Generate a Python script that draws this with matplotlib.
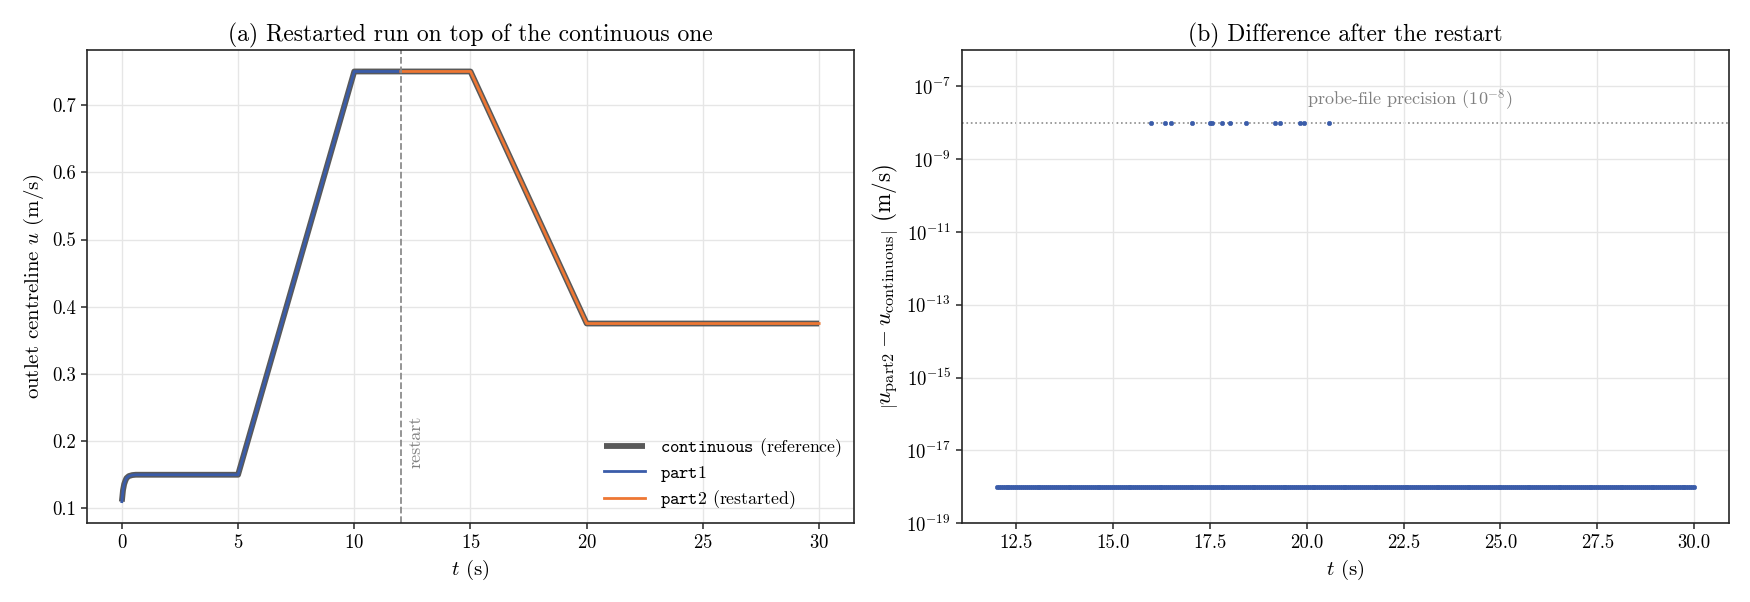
import numpy as np
import matplotlib
matplotlib.use("Agg")
import matplotlib.pyplot as plt
from matplotlib import ticker

# dane z sondy na wylocie
tContinuous = [0.0, 0.05, 0.1, 0.15, 0.2, 0.3, 0.45, 0.6, 5.0, 10.0, 15.0, 20.0, 30.0]
uContinuous = [0.11, 0.127, 0.136, 0.141, 0.145, 0.148, 0.1495, 0.15, 0.15, 0.75, 0.75, 0.375, 0.375]

tPart1 = [0.0, 0.05, 0.1, 0.15, 0.2, 0.3, 0.45, 0.6, 5.0, 10.0, 12.0]
uPart1 = [0.11, 0.127, 0.136, 0.141, 0.145, 0.148, 0.1495, 0.15, 0.15, 0.75, 0.75]

tPart2 = [12.0, 15.0, 20.0, 30.0]
uPart2 = [0.75, 0.75, 0.375, 0.375]

tRestart = 12.0

# roznica part2 - continuous: zero wszedzie poza kilkoma chwilami (precyzja pliku)
tSpikes = [15.99, 16.35, 16.50, 17.04, 17.49, 17.56, 17.80, 18.01, 18.44,
           19.19, 19.32, 19.82, 19.94, 20.57]
spikeValue = 1e-8
probeStep = 0.05
floorValue = 1e-18
probePrecision = 1e-8

BLUE = '#3a5ca9'
ORANGE = '#ee7733'
GREY = '#595959'

plt.rcParams['font.family'] = 'serif'
plt.rcParams['font.serif'] = ['cmr10']
plt.rcParams['mathtext.fontset'] = 'cm'
plt.rcParams['axes.formatter.use_mathtext'] = True
plt.rcParams['axes.unicode_minus'] = False

TICK = 13.5
LABEL = 15
TITLE = 17
NOTE = 13


def ustawOsie(ax):
    ax.grid(True, color='#e6e6e6', linewidth=1.0)
    ax.set_axisbelow(True)
    for s in ax.spines.values():
        s.set_color('#262626')
        s.set_linewidth(1.2)
    ax.tick_params(labelsize=TICK, length=4.5, width=1.1, color='#262626')


fig = plt.figure(figsize=(17.5, 6.02), dpi=100)
ax1 = fig.add_axes([0.0497, 0.131, 0.4383, 0.786])
ax2 = fig.add_axes([0.5497, 0.131, 0.4383, 0.786])

# (a) przebieg
ax1.plot(tContinuous, uContinuous, color=GREY, linewidth=4.2, solid_capstyle='butt',
         label=r'$\mathtt{continuous}$ (reference)')
ax1.plot(tPart1, uPart1, color=BLUE, linewidth=2.0, label=r'$\mathtt{part1}$')
ax1.plot(tPart2, uPart2, color=ORANGE, linewidth=2.0, label=r'$\mathtt{part2}$ (restarted)')
ax1.axvline(tRestart, color='#8c8c8c', linestyle='--', linewidth=1.3)
ax1.text(tRestart + 0.3, 0.16, 'restart', rotation=90, color='#808080', fontsize=NOTE,
         ha='left', va='bottom')
ax1.set_title('(a) Restarted run on top of the continuous one', fontsize=TITLE)
ax1.set_xlabel(r'$t$ (s)', fontsize=LABEL)
ax1.set_ylabel(r'outlet centreline $u$ (m/s)', fontsize=LABEL)
ax1.set_xticks([0, 5, 10, 15, 20, 25, 30])
ax1.yaxis.set_major_formatter(ticker.FormatStrFormatter('%.1f'))
ustawOsie(ax1)
ax1.legend(loc='lower right', frameon=False, fontsize=12.8, handlelength=2.3,
           labelspacing=0.25, borderaxespad=0.3)

# (b) roznica po restarcie
tProbe = np.arange(tRestart, 30.0 + 1e-9, probeStep)
tAll = np.sort(np.concatenate([tProbe, tSpikes]))
diff = np.zeros_like(tAll)
for ts in tSpikes:
    diff[np.argmin(np.abs(tAll - ts))] = spikeValue
ax2.plot(tAll, np.maximum(diff, floorValue), 'o', color=BLUE, markersize=3.2,
         markeredgewidth=0.4, markeredgecolor=BLUE)
ax2.axhline(probePrecision, color='#8c8c8c', linestyle=':', linewidth=1.2, zorder=0.5)
ax2.text(20.0, 1.8e-8, r'probe-file precision ($10^{-8}$)', color='#808080', fontsize=NOTE,
         ha='left', va='bottom')
ax2.set_yscale('log')
ax2.set_ylim(1e-19, 1e-6)
ax2.set_yticks([10.0 ** e for e in range(-19, -6, 2)])
ax2.yaxis.set_minor_locator(ticker.NullLocator())
ax2.set_xticks([12.5, 15.0, 17.5, 20.0, 22.5, 25.0, 27.5, 30.0])
ax2.xaxis.set_major_formatter(ticker.FormatStrFormatter('%.1f'))
ax2.set_title('(b) Difference after the restart', fontsize=TITLE)
ax2.set_xlabel(r'$t$ (s)', fontsize=LABEL)
ax2.set_ylabel(r'$\left|u_{\rm part2} - u_{\rm continuous}\right|$ (m/s)', fontsize=16.7)
ustawOsie(ax2)

fig.savefig('out.png', dpi=100)
